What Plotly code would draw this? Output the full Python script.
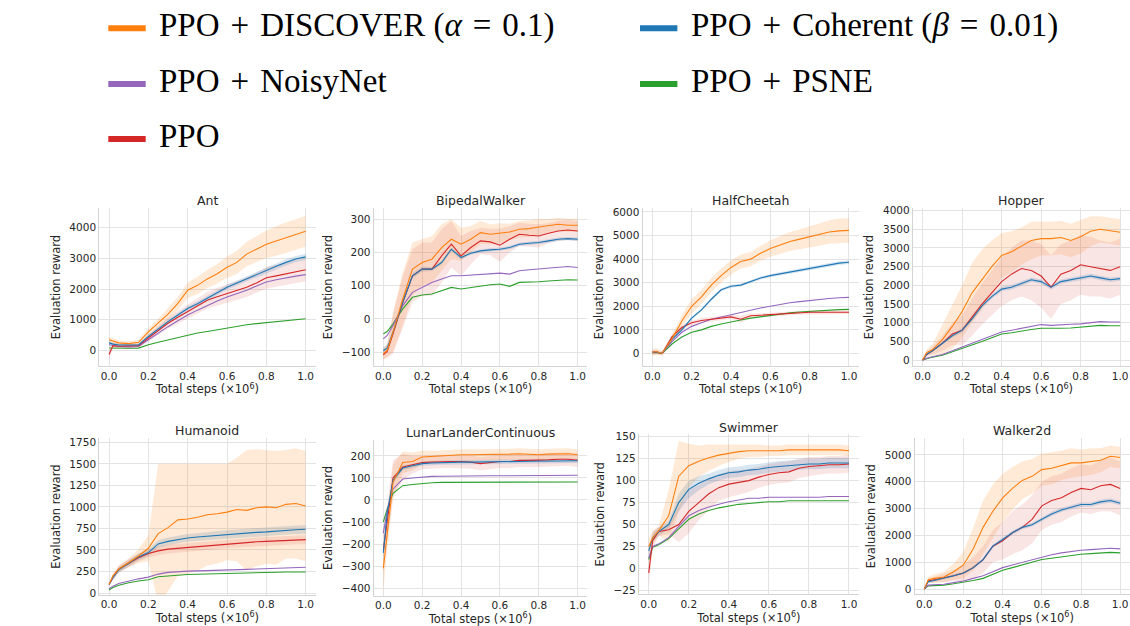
import plotly.graph_objects as go

# ---------------------------------------------------------------- data
STEPS = [0.0, 0.02, 0.05, 0.1, 0.15, 0.2, 0.25, 0.3, 0.35, 0.4, 0.45, 0.5,
         0.55, 0.6, 0.65, 0.7, 0.75, 0.8, 0.85, 0.9, 0.95, 1.0]

ENVS = ["Ant", "BipedalWalker", "HalfCheetah", "Hopper",
        "Humanoid", "LunarLanderContinuous", "Swimmer", "Walker2d"]

METHODS = ["DISCOVER", "Coherent", "NoisyNet", "PSNE", "PPO"]
SP = "\u2004"  # slightly wider space around binary operators
METHOD_LABELS = [f"PPO{SP}+{SP}DISCOVER (<i>α</i>{SP}={SP}0.1)",
                 f"PPO{SP}+{SP}Coherent (<i>β</i>{SP}={SP}0.01)",
                 f"PPO{SP}+{SP}NoisyNet", f"PPO{SP}+{SP}PSNE", "PPO"]

# Ant
ANT_DISCOVER = [340, 300, 240, 215, 260, 600, 880, 1180, 1530, 1960, 2120, 2330, 2500, 2710, 2870, 3140, 3300, 3460, 3570, 3680, 3780, 3890]
ANT_COHERENT = [240, 200, 170, 160, 170, 450, 700, 935, 1150, 1365, 1520, 1690, 1880, 2060, 2200, 2330, 2470, 2600, 2740, 2870, 2980, 3050]
ANT_NOISYNET = [180, 150, 120, 110, 120, 340, 560, 770, 960, 1150, 1310, 1470, 1610, 1740, 1850, 1960, 2100, 2230, 2300, 2370, 2420, 2470]
ANT_PSNE = [75, 70, 65, 65, 70, 180, 260, 340, 420, 500, 560, 610, 670, 720, 780, 830, 870, 900, 940, 970, 1000, 1030]
ANT_PPO = [-140, 150, 130, 130, 150, 400, 650, 880, 1080, 1260, 1450, 1630, 1750, 1850, 1950, 2060, 2200, 2370, 2430, 2500, 2580, 2630]
ANT_DISCOVER_SD = [100, 100, 80, 80, 80, 120, 150, 200, 220, 250, 280, 300, 320, 350, 380, 400, 420, 450, 480, 500, 500, 500]
ANT_COHERENT_SD = [50, 50, 40, 40, 40, 50, 60, 60, 70, 70, 70, 80, 80, 80, 80, 90, 90, 90, 90, 100, 100, 100]
ANT_PPO_SD = [150, 100, 80, 80, 80, 120, 150, 180, 200, 220, 250, 270, 290, 300, 310, 320, 330, 350, 360, 370, 380, 380]

# BipedalWalker
BIPEDAL_DISCOVER = [-105, -95, -40, 60, 150, 170, 180, 215, 240, 225, 240, 260, 255, 258, 262, 270, 272, 277, 280, 285, 282, 282]
BIPEDAL_COHERENT = [-95, -88, -40, 50, 130, 150, 150, 170, 210, 185, 198, 205, 208, 210, 215, 225, 228, 230, 235, 240, 242, 240]
BIPEDAL_NOISYNET = [-60, -50, -20, 40, 80, 95, 110, 120, 130, 130, 132, 135, 138, 138, 135, 145, 148, 150, 152, 155, 158, 155]
BIPEDAL_PSNE = [-45, -38, -15, 30, 65, 72, 75, 85, 95, 90, 95, 100, 103, 105, 98, 110, 110, 112, 114, 117, 118, 117]
BIPEDAL_PPO = [-108, -98, -45, 50, 130, 150, 150, 190, 225, 190, 215, 235, 232, 222, 240, 255, 252, 250, 258, 265, 268, 265]
BIPEDAL_DISCOVER_SD = [15, 20, 60, 80, 80, 70, 70, 70, 60, 50, 40, 35, 30, 30, 25, 25, 25, 25, 20, 20, 20, 20]
BIPEDAL_COHERENT_SD = [10, 10, 10, 8, 8, 8, 6, 6, 6, 6, 5, 5, 5, 5, 5, 5, 5, 5, 5, 5, 5, 5]
BIPEDAL_PPO_SD = [15, 20, 60, 80, 80, 80, 80, 80, 70, 60, 50, 40, 40, 50, 40, 35, 35, 35, 30, 30, 30, 30]

# HalfCheetah
CHEETAH_DISCOVER = [50, 80, 0, 620, 1380, 2000, 2400, 2900, 3300, 3650, 3900, 4000, 4250, 4450, 4600, 4750, 4850, 4950, 5050, 5150, 5200, 5220]
CHEETAH_COHERENT = [50, 70, 0, 600, 1000, 1500, 1850, 2300, 2700, 2850, 2900, 3050, 3200, 3300, 3380, 3450, 3530, 3600, 3680, 3750, 3830, 3870]
CHEETAH_NOISYNET = [40, 50, 0, 500, 900, 1150, 1300, 1450, 1550, 1650, 1750, 1850, 1930, 2000, 2080, 2150, 2200, 2250, 2290, 2330, 2360, 2380]
CHEETAH_PSNE = [30, 40, 0, 400, 700, 900, 1000, 1150, 1250, 1350, 1420, 1500, 1560, 1620, 1670, 1720, 1760, 1790, 1820, 1840, 1860, 1870]
CHEETAH_PPO = [50, 60, 0, 700, 1100, 1300, 1400, 1450, 1500, 1550, 1450, 1600, 1620, 1650, 1680, 1700, 1720, 1750, 1750, 1750, 1750, 1750]
CHEETAH_DISCOVER_SD = [150, 150, 100, 150, 250, 300, 300, 300, 300, 300, 300, 300, 320, 350, 380, 400, 420, 450, 480, 500, 520, 520]
CHEETAH_COHERENT_SD = [40, 40, 30, 50, 60, 60, 60, 60, 60, 60, 60, 60, 60, 70, 70, 70, 70, 70, 70, 80, 80, 80]
CHEETAH_PPO_SD = [100, 100, 80, 100, 100, 100, 100, 90, 90, 90, 150, 90, 80, 80, 80, 80, 80, 80, 80, 80, 80, 80]

# Hopper
HOPPER_DISCOVER = [0, 200, 280, 550, 900, 1300, 1800, 2150, 2500, 2800, 2900, 3050, 3200, 3250, 3250, 3280, 3200, 3300, 3450, 3500, 3450, 3420]
HOPPER_COHERENT = [0, 150, 250, 450, 650, 800, 1100, 1450, 1700, 1900, 1950, 2050, 2150, 2100, 1950, 2100, 2150, 2200, 2250, 2200, 2150, 2180]
HOPPER_NOISYNET = [0, 50, 90, 150, 250, 350, 450, 550, 650, 750, 800, 850, 900, 950, 930, 950, 960, 970, 1000, 1030, 1020, 1020]
HOPPER_PSNE = [0, 40, 80, 130, 220, 300, 400, 500, 600, 700, 730, 780, 820, 850, 840, 850, 860, 880, 900, 930, 920, 920]
HOPPER_PPO = [0, 150, 250, 450, 700, 800, 1150, 1500, 1800, 2100, 2300, 2450, 2400, 2250, 1950, 2300, 2400, 2550, 2500, 2450, 2400, 2500]
HOPPER_DISCOVER_SD = [50, 80, 150, 400, 600, 700, 800, 800, 700, 600, 550, 500, 500, 450, 450, 450, 450, 450, 400, 350, 350, 350]
HOPPER_COHERENT_SD = [10, 20, 30, 40, 50, 60, 60, 60, 60, 60, 60, 60, 60, 60, 60, 60, 60, 60, 60, 60, 60, 60]
HOPPER_PPO_SD = [50, 80, 100, 200, 300, 400, 500, 550, 600, 650, 700, 750, 800, 850, 850, 800, 800, 800, 800, 750, 750, 750]

# Humanoid
HUMANOID_DISCOVER = [100, 200, 280, 350, 430, 520, 690, 760, 850, 860, 880, 910, 920, 940, 970, 960, 990, 1000, 990, 1030, 1040, 1010]
HUMANOID_COHERENT = [100, 180, 270, 350, 420, 470, 570, 600, 620, 640, 650, 660, 670, 680, 690, 700, 705, 710, 720, 730, 735, 740]
HUMANOID_NOISYNET = [50, 80, 110, 140, 165, 185, 220, 240, 250, 255, 258, 260, 265, 270, 272, 275, 280, 285, 290, 295, 298, 300]
HUMANOID_PSNE = [35, 65, 90, 120, 140, 155, 190, 200, 210, 215, 218, 220, 222, 225, 228, 230, 235, 240, 242, 245, 248, 245]
HUMANOID_PPO = [100, 180, 280, 350, 410, 460, 490, 510, 520, 530, 540, 550, 560, 570, 580, 590, 595, 600, 605, 610, 615, 620]
HUMANOID_DISCOVER_SD = [20, 30, 40, 50, 80, 150, 810, 740, 650, 640, 620, 590, 580, 560, 600, 700, 680, 660, 660, 630, 640, 640]
HUMANOID_COHERENT_SD = [20, 25, 30, 35, 40, 40, 45, 45, 45, 45, 45, 50, 50, 50, 50, 50, 50, 50, 50, 50, 50, 50]
HUMANOID_PPO_SD = [20, 30, 40, 45, 45, 45, 50, 50, 50, 50, 50, 50, 50, 50, 50, 50, 50, 50, 50, 50, 50, 50]

# LunarLanderContinuous
LUNAR_DISCOVER = [-310, -150, 80, 170, 175, 195, 198, 200, 203, 205, 205, 205, 205, 205, 208, 210, 208, 205, 208, 210, 210, 205]
LUNAR_COHERENT = [-240, -60, 90, 145, 155, 165, 168, 170, 171, 172, 172, 172, 172, 172, 174, 175, 176, 177, 177, 178, 178, 178]
LUNAR_NOISYNET = [-150, -50, 50, 95, 100, 105, 107, 108, 109, 110, 110, 110, 110, 110, 110, 110, 111, 111, 112, 112, 112, 112]
LUNAR_PSNE = [-100, -40, 30, 65, 70, 75, 78, 80, 80, 80, 80, 80, 80, 80, 80, 80, 81, 81, 82, 82, 82, 82]
LUNAR_PPO = [-230, -100, 100, 150, 160, 170, 172, 175, 175, 175, 172, 165, 170, 175, 175, 180, 180, 180, 182, 185, 185, 180]
LUNAR_DISCOVER_SD = [100, 80, 80, 50, 40, 30, 25, 25, 25, 25, 25, 25, 25, 25, 25, 25, 25, 25, 25, 25, 25, 25]
LUNAR_COHERENT_SD = [30, 20, 15, 10, 10, 10, 10, 10, 10, 10, 10, 10, 10, 10, 10, 10, 10, 10, 10, 10, 10, 10]
LUNAR_PPO_SD = [100, 80, 80, 60, 40, 30, 30, 30, 30, 30, 30, 30, 30, 30, 30, 30, 30, 30, 30, 30, 30, 30]

# Swimmer
SWIMMER_DISCOVER = [25, 35, 43, 60, 105, 117, 122, 126, 129, 131, 133, 134, 134, 134, 134, 135, 135, 135, 135, 135, 135, 134]
SWIMMER_COHERENT = [20, 35, 42, 50, 75, 90, 97, 102, 106, 109, 110, 112, 113, 115, 116, 117, 118, 119, 119, 120, 120, 120]
SWIMMER_NOISYNET = [12, 25, 28, 35, 48, 60, 66, 70, 73, 76, 78, 80, 80, 81, 81, 81, 81, 81, 81, 82, 82, 82]
SWIMMER_PSNE = [10, 24, 27, 34, 45, 56, 62, 66, 69, 71, 73, 74, 75, 76, 76, 77, 77, 77, 77, 77, 77, 77]
SWIMMER_PPO = [-5, 32, 42, 44, 50, 65, 75, 85, 92, 96, 98, 100, 104, 107, 109, 110, 114, 116, 117, 118, 118, 119]
SWIMMER_DISCOVER_SD = [10, 8, 5, 30, 40, 25, 18, 15, 12, 10, 8, 7, 7, 6, 6, 6, 6, 6, 6, 6, 6, 6]
SWIMMER_COHERENT_SD = [5, 5, 5, 5, 10, 10, 8, 6, 6, 6, 6, 6, 6, 6, 6, 6, 6, 6, 6, 6, 6, 6]
SWIMMER_PPO_SD = [15, 10, 5, 5, 20, 25, 20, 18, 15, 15, 14, 13, 12, 12, 12, 12, 11, 11, 10, 10, 10, 10]

# Walker2d
WALKER_DISCOVER = [0, 350, 400, 450, 650, 900, 1500, 2300, 2900, 3400, 3750, 4050, 4200, 4450, 4500, 4600, 4700, 4700, 4750, 4800, 4950, 4900]
WALKER_COHERENT = [0, 280, 320, 400, 500, 600, 800, 1100, 1600, 1850, 2100, 2300, 2400, 2600, 2800, 2950, 3050, 3150, 3150, 3250, 3300, 3200]
WALKER_NOISYNET = [0, 150, 160, 180, 240, 300, 400, 500, 650, 800, 900, 1000, 1100, 1200, 1280, 1350, 1400, 1450, 1470, 1500, 1520, 1500]
WALKER_PSNE = [0, 120, 130, 150, 200, 250, 320, 400, 550, 700, 800, 900, 1000, 1100, 1150, 1200, 1250, 1300, 1320, 1350, 1370, 1350]
WALKER_PPO = [0, 300, 350, 420, 500, 600, 800, 1100, 1600, 1800, 2100, 2300, 2600, 3100, 3300, 3400, 3600, 3750, 3700, 3850, 3900, 3750]
WALKER_DISCOVER_SD = [0, 100, 150, 200, 300, 500, 800, 1000, 1000, 900, 800, 700, 650, 600, 600, 550, 550, 500, 500, 450, 400, 400]
WALKER_COHERENT_SD = [0, 30, 40, 40, 50, 50, 60, 60, 60, 70, 70, 70, 70, 70, 80, 80, 80, 80, 80, 80, 80, 80]
WALKER_PPO_SD = [0, 80, 100, 150, 200, 300, 400, 500, 600, 700, 800, 850, 900, 900, 900, 900, 900, 900, 900, 950, 1000, 1000]

# y-axis tick values per environment
ANT_TICKS = [0, 1000, 2000, 3000, 4000]
BIPEDAL_TICKS = [-100, 0, 100, 200, 300]
CHEETAH_TICKS = [0, 1000, 2000, 3000, 4000, 5000, 6000]
HOPPER_TICKS = [0, 500, 1000, 1500, 2000, 2500, 3000, 3500, 4000]
HUMANOID_TICKS = [0, 250, 500, 750, 1000, 1250, 1500, 1750]
LUNAR_TICKS = [-400, -300, -200, -100, 0, 100, 200]
SWIMMER_TICKS = [-25, 0, 25, 50, 75, 100, 125, 150]
WALKER_TICKS = [0, 1000, 2000, 3000, 4000, 5000]
X_TICKS = [0.0, 0.2, 0.4, 0.6, 0.8, 1.0]

# ---------------------------------------------------------------- assembly
CURVES = {
    "Ant": (ANT_DISCOVER, ANT_COHERENT, ANT_NOISYNET, ANT_PSNE, ANT_PPO),
    "BipedalWalker": (BIPEDAL_DISCOVER, BIPEDAL_COHERENT, BIPEDAL_NOISYNET, BIPEDAL_PSNE, BIPEDAL_PPO),
    "HalfCheetah": (CHEETAH_DISCOVER, CHEETAH_COHERENT, CHEETAH_NOISYNET, CHEETAH_PSNE, CHEETAH_PPO),
    "Hopper": (HOPPER_DISCOVER, HOPPER_COHERENT, HOPPER_NOISYNET, HOPPER_PSNE, HOPPER_PPO),
    "Humanoid": (HUMANOID_DISCOVER, HUMANOID_COHERENT, HUMANOID_NOISYNET, HUMANOID_PSNE, HUMANOID_PPO),
    "LunarLanderContinuous": (LUNAR_DISCOVER, LUNAR_COHERENT, LUNAR_NOISYNET, LUNAR_PSNE, LUNAR_PPO),
    "Swimmer": (SWIMMER_DISCOVER, SWIMMER_COHERENT, SWIMMER_NOISYNET, SWIMMER_PSNE, SWIMMER_PPO),
    "Walker2d": (WALKER_DISCOVER, WALKER_COHERENT, WALKER_NOISYNET, WALKER_PSNE, WALKER_PPO),
}
SPREADS = {  # (DISCOVER, Coherent, PPO)
    "Ant": (ANT_DISCOVER_SD, ANT_COHERENT_SD, ANT_PPO_SD),
    "BipedalWalker": (BIPEDAL_DISCOVER_SD, BIPEDAL_COHERENT_SD, BIPEDAL_PPO_SD),
    "HalfCheetah": (CHEETAH_DISCOVER_SD, CHEETAH_COHERENT_SD, CHEETAH_PPO_SD),
    "Hopper": (HOPPER_DISCOVER_SD, HOPPER_COHERENT_SD, HOPPER_PPO_SD),
    "Humanoid": (HUMANOID_DISCOVER_SD, HUMANOID_COHERENT_SD, HUMANOID_PPO_SD),
    "LunarLanderContinuous": (LUNAR_DISCOVER_SD, LUNAR_COHERENT_SD, LUNAR_PPO_SD),
    "Swimmer": (SWIMMER_DISCOVER_SD, SWIMMER_COHERENT_SD, SWIMMER_PPO_SD),
    "Walker2d": (WALKER_DISCOVER_SD, WALKER_COHERENT_SD, WALKER_PPO_SD),
}
TICKS = {
    "Ant": ANT_TICKS, "BipedalWalker": BIPEDAL_TICKS, "HalfCheetah": CHEETAH_TICKS,
    "Hopper": HOPPER_TICKS, "Humanoid": HUMANOID_TICKS, "LunarLanderContinuous": LUNAR_TICKS,
    "Swimmer": SWIMMER_TICKS, "Walker2d": WALKER_TICKS,
}

# ---------------------------------------------------------------- style / geometry
W, H = 1130, 626
COLORS = {"DISCOVER": "#ff7f0e", "Coherent": "#1f77b4", "NoisyNet": "#9467bd",
          "PSNE": "#2ca02c", "PPO": "#d62728"}
BAND_FILL = {"DISCOVER": "rgba(255,127,14,0.16)", "Coherent": "rgba(31,119,180,0.18)",
             "PPO": "rgba(214,39,40,0.12)"}
# panel boxes in pixels: left, right, top, bottom
PANELS = {
    "Ant": (99.2, 315.5, 206.7, 366.7),
    "BipedalWalker": (373.6, 587.4, 206.7, 366.7),
    "HalfCheetah": (642.5, 858.8, 206.7, 366.7),
    "Hopper": (912.8, 1130.0, 206.7, 366.7),
    "Humanoid": (99.2, 315.5, 440.0, 598.5),
    "LunarLanderContinuous": (373.6, 587.4, 441.7, 599.5),
    "Swimmer": (638.7, 859.0, 436.0, 597.8),
    "Walker2d": (914.5, 1130.0, 440.0, 597.8),
}
Y_RANGES = {
    "Ant": [-516, 4645], "BipedalWalker": [-142, 334], "HalfCheetah": [-532, 6167],
    "Hopper": [-159, 4069], "Humanoid": [-21, 1796], "LunarLanderContinuous": [-435, 272],
    "Swimmer": [-29.3, 152.6], "Walker2d": [-188, 5614],
}
FONT = "DejaVu Sans"
GRID = "#e3e3e3"
AXLINE = "#d4d4d4"
TEXT = "#262626"

fig = go.Figure()
layout = {}
annotations = []
shapes = []

for i, env in enumerate(ENVS):
    n = i + 1
    sfx = "" if n == 1 else str(n)
    xa, ya = "x" + sfx, "y" + sfx
    left, right, top, bottom = PANELS[env]
    curves = dict(zip(METHODS, CURVES[env]))
    spreads = dict(zip(["DISCOVER", "Coherent", "PPO"], SPREADS[env]))

    # shaded spread bands
    for m in ["PPO", "Coherent", "DISCOVER"]:
        mean, sd = curves[m], spreads[m]
        hi = [a + b for a, b in zip(mean, sd)]
        lo = [a - b for a, b in zip(mean, sd)]
        fig.add_trace(go.Scatter(
            x=STEPS + STEPS[::-1], y=hi + lo[::-1], fill="toself",
            fillcolor=BAND_FILL[m], line=dict(width=0), mode="lines",
            hoverinfo="skip", showlegend=False, xaxis=xa, yaxis=ya))

    # mean curves
    for m in ["PSNE", "NoisyNet", "PPO", "Coherent", "DISCOVER"]:
        fig.add_trace(go.Scatter(
            x=STEPS, y=curves[m], mode="lines",
            line=dict(color=COLORS[m], width=1.1),
            name=m, showlegend=False, xaxis=xa, yaxis=ya))

    layout["xaxis" + sfx] = dict(
        domain=[left / W, right / W], anchor=ya, range=[-0.05, 1.05],
        tickvals=X_TICKS, tickformat=".1f", showgrid=True, gridcolor=GRID, gridwidth=1,
        zeroline=False, showline=True, linecolor=AXLINE, linewidth=1, ticks="",
        tickfont=dict(family=FONT, size=10.5, color=TEXT),
        title=dict(text="Total steps (×10<sup>6</sup>)", standoff=2,
                   font=dict(family=FONT, size=11.5, color=TEXT)))
    layout["yaxis" + sfx] = dict(
        domain=[1 - bottom / H, 1 - top / H], anchor=xa, range=Y_RANGES[env],
        tickvals=TICKS[env], showgrid=True, gridcolor=GRID, gridwidth=1,
        zeroline=False, showline=True, linecolor=AXLINE, linewidth=1, ticks="",
        tickfont=dict(family=FONT, size=10.5, color=TEXT),
        title=dict(text="Evaluation reward", standoff=6,
                   font=dict(family=FONT, size=11.5, color=TEXT)))

    annotations.append(dict(
        text=env, x=(left + right) / 2 / W, y=1 - (top - 7.5) / H,
        xref="paper", yref="paper", xanchor="center", yanchor="middle",
        showarrow=False, font=dict(family=FONT, size=12.5, color=TEXT)))

# legend block (two columns, method order as in METHODS)
LEG_COLS = [108.3, 640.0]
LEG_ROWS = [24.5, 81.0, 136.7]
for k, (m, label) in enumerate(zip(METHODS, METHOD_LABELS)):
    col, row = k % 2, k // 2
    x0 = LEG_COLS[col]
    yc = LEG_ROWS[row]
    shapes.append(dict(type="line", xref="paper", yref="paper",
                       x0=x0 / W, x1=(x0 + 37.4) / W, y0=1 - yc / H, y1=1 - yc / H,
                       line=dict(color=COLORS[m], width=6)))
    annotations.append(dict(
        text=label, x=(x0 + 49) / W, y=1 - (yc - 3) / H, xref="paper", yref="paper",
        xanchor="left", yanchor="middle", showarrow=False,
        font=dict(family="Liberation Serif", size=33, color="#000000")))

fig.update_layout(
    width=W, height=H, margin=dict(l=0, r=0, t=0, b=0),
    paper_bgcolor="white", plot_bgcolor="white",
    showlegend=False, annotations=annotations, shapes=shapes, **layout)

fig.write_html("out.html")
